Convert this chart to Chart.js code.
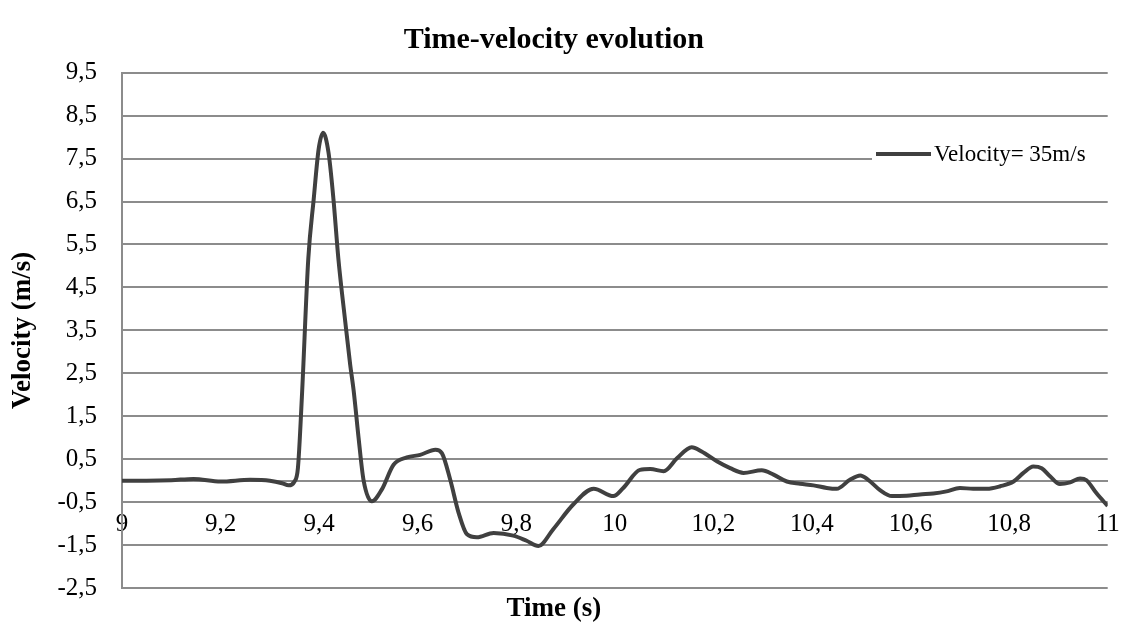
<!DOCTYPE html>
<html>
<head>
<meta charset="utf-8">
<script src="https://cdn.jsdelivr.net/npm/chart.js@4/dist/chart.umd.min.js"></script>
<style>
  html, body { margin: 0; padding: 0; background: #fff; }
  #wrap { width: 1123px; height: 628px; }
</style>
</head>
<body>
<div id="wrap"><canvas id="myChart" width="1123" height="628"></canvas></div>
<script>
// time (s) and velocity (m/s)
const time = [9.00, 9.05, 9.10, 9.145, 9.20, 9.26, 9.30, 9.325, 9.338, 9.350,
  9.357, 9.365, 9.378, 9.389, 9.399, 9.408, 9.419, 9.429, 9.439, 9.453,
  9.463, 9.470, 9.480, 9.490, 9.507, 9.527, 9.551, 9.578, 9.605, 9.636,
  9.649, 9.666, 9.683, 9.700, 9.720, 9.754, 9.794, 9.821, 9.845, 9.875,
  9.916, 9.957, 9.997, 10.017, 10.051, 10.072, 10.099, 10.126, 10.156, 10.176,
  10.207, 10.234, 10.261, 10.298, 10.322, 10.349, 10.376, 10.403, 10.430, 10.450,
  10.477, 10.498, 10.514, 10.538, 10.562, 10.592, 10.619, 10.646, 10.673, 10.700,
  10.727, 10.755, 10.782, 10.809, 10.829, 10.849, 10.866, 10.883, 10.903, 10.924,
  10.944, 10.957, 10.977, 11.00];
const velocity = [0, 0, 0.01, 0.04, -0.02, 0.02, 0, -0.06, -0.11, -0.02,
  0.3, 1.95, 5.17, 6.56, 7.72, 8.10, 7.64, 6.56, 5.17, 3.7,
  2.7, 2.1, 1.0, 0.02, -0.48, -0.21, 0.37, 0.54, 0.60, 0.72,
  0.64, 0.02, -0.75, -1.25, -1.32, -1.22, -1.28, -1.40, -1.52, -1.13,
  -0.55, -0.19, -0.36, -0.17, 0.25, 0.27, 0.22, 0.52, 0.78, 0.68,
  0.45, 0.29, 0.18, 0.24, 0.14, -0.02, -0.07, -0.11, -0.17, -0.19,
  0.02, 0.12, 0.02, -0.22, -0.36, -0.35, -0.32, -0.30, -0.25, -0.17,
  -0.19, -0.19, -0.13, -0.02, 0.18, 0.33, 0.29, 0.10, -0.08, -0.04,
  0.05, 0.01, -0.29, -0.59];
const seriesName = "Velocity= 35m/s";
const xTicks = { min: 9, max: 11, step: 0.2 };
const yTicks = { min: -2.5, max: 9.5, step: 1 };

const serif = "'Liberation Serif', 'Times New Roman', serif";
const gridColor = "#8c8c8c";
const lineColor = "#404040";

function comma(v) {
  return String(Number(v.toFixed(1))).replace(".", ",");
}

// legend drawn inside the plot, Excel style (white box over the grid)
const insideLegend = {
  id: "insideLegend",
  afterDatasetsDraw(chart) {
    const ctx = chart.ctx;
    const area = chart.chartArea;
    const y = 154;
    ctx.save();
    ctx.font = "23px " + serif;
    ctx.fillStyle = "#fff";
    ctx.fillRect(872, y - 15, area.right - 872 + 2, 30);
    ctx.strokeStyle = lineColor;
    ctx.lineWidth = 4;
    ctx.beginPath();
    ctx.moveTo(876, y);
    ctx.lineTo(931, y);
    ctx.stroke();
    ctx.fillStyle = "#000";
    ctx.textBaseline = "middle";
    ctx.fillText(seriesName, 934, y + 1);
    ctx.restore();
  }
};

new Chart(document.getElementById("myChart"), {
  type: "line",
  data: {
    datasets: [{
      label: seriesName,
      data: time.map((t, i) => ({ x: t, y: velocity[i] })),
      borderColor: lineColor,
      borderWidth: 4,
      pointRadius: 0,
      cubicInterpolationMode: "monotone",
      fill: false
    }]
  },
  options: {
    responsive: false,
    animation: false,
    layout: { padding: { left: 0, right: 15.3, top: 0, bottom: 0 } },
    plugins: {
      legend: { display: false },
      tooltip: { enabled: false },
      title: {
        display: true,
        text: "Time-velocity evolution",
        color: "#000",
        font: { family: serif, size: 30, weight: "bold", lineHeight: 1.2 },
        padding: { top: 22, bottom: 14.7 }
      },
      subtitle: {
        display: true,
        position: "bottom",
        text: "Time (s)",
        color: "#000",
        font: { family: serif, size: 27, weight: "bold", lineHeight: 1 },
        padding: { top: 8, bottom: 0 }
      }
    },
    scales: {
      x: {
        type: "linear",
        position: { y: 0 },
        min: xTicks.min,
        max: xTicks.max,
        afterFit: s => { s.paddingLeft = 0; s.paddingRight = 0; },
        grid: { display: false, drawTicks: false },
        border: { display: true, color: gridColor, width: 2 },
        ticks: {
          stepSize: xTicks.step,
          color: "#000",
          padding: 29,
          maxRotation: 0,
          autoSkip: false,
          font: { family: serif, size: 25 },
          callback: v => comma(v)
        }
      },
      y: {
        min: yTicks.min,
        max: yTicks.max,
        afterFit: s => { s.width = 122; },
        grid: { color: gridColor, lineWidth: 2, drawTicks: false },
        border: { display: true, color: gridColor, width: 2 },
        ticks: {
          stepSize: yTicks.step,
          color: "#000",
          padding: 25,
          font: { family: serif, size: 25 },
          callback: v => comma(v)
        },
        title: {
          display: true,
          text: "Velocity (m/s)",
          color: "#000",
          font: { family: serif, size: 27, weight: "bold", lineHeight: 1.2 },
          padding: { top: 7, bottom: 0 }
        }
      }
    }
  },
  plugins: [insideLegend]
});
</script>
</body>
</html>
